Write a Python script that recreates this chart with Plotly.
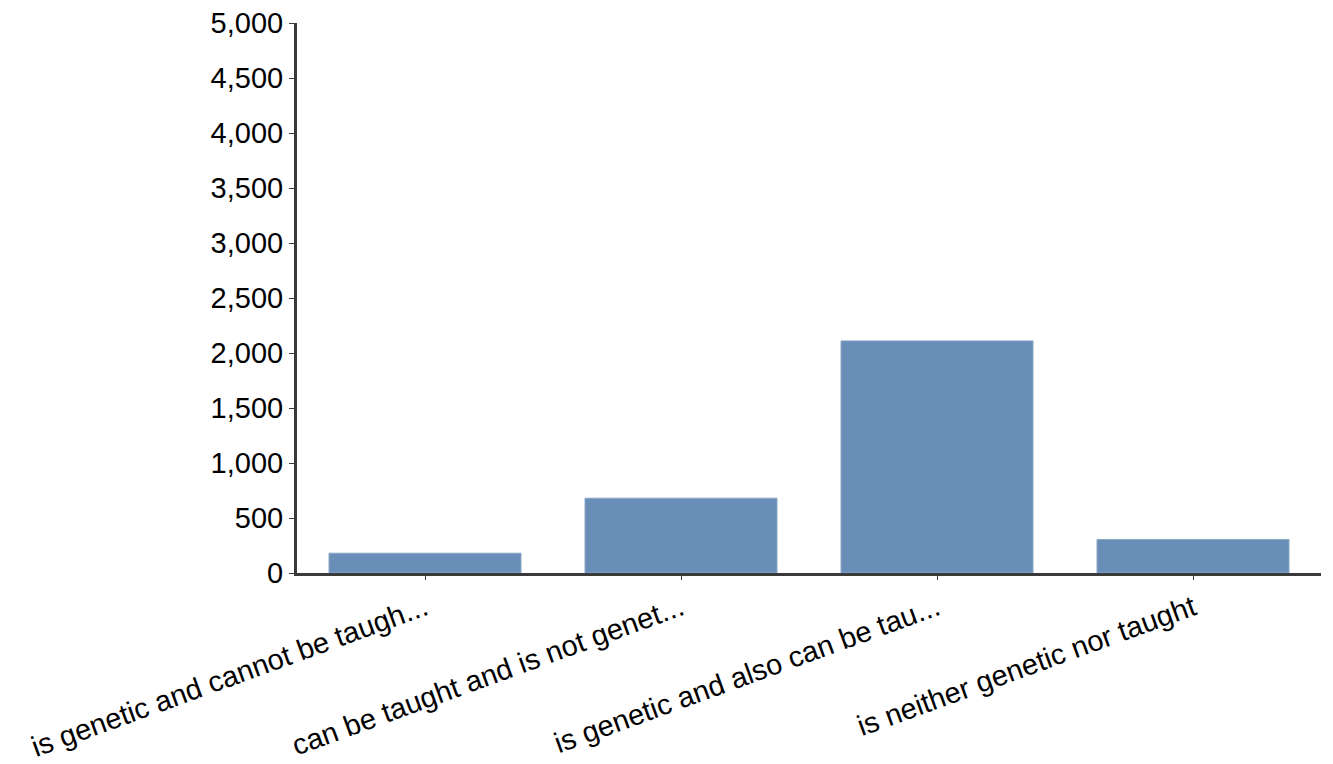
import plotly.graph_objects as go

categories = [
    "is genetic and cannot be taugh...",
    "can be taught and is not genet...",
    "is genetic and also can be tau...",
    "is neither genetic nor taught",
]
values = [180, 680, 2110, 305]
y_ticks = [0, 500, 1000, 1500, 2000, 2500, 3000, 3500, 4000, 4500, 5000]

fig = go.Figure(
    go.Bar(
        x=categories,
        y=values,
        marker=dict(color="#698fb8", line=dict(color="#8aa6c6", width=1)),
    )
)

fig.update_layout(
    width=1325,
    height=756,
    margin=dict(l=289, r=12, t=15, b=191),
    paper_bgcolor="white",
    plot_bgcolor="white",
    bargap=0.25,
    showlegend=False,
    font=dict(family="Liberation Sans, Arial, sans-serif", color="black"),
)
fig.update_xaxes(
    automargin=False,
    showline=True,
    linecolor="#3a3a3a",
    linewidth=3,
    ticks="outside",
    ticklen=4,
    tickcolor="#3a3a3a",
    tickwidth=1,
    tickangle=-20,
    tickfont=dict(size=29),
    ticklabeloverflow="allow",
    showgrid=False,
)
fig.update_yaxes(
    automargin=False,
    range=[0, 5000],
    tickvals=y_ticks,
    tickformat=",",
    showline=True,
    linecolor="#3a3a3a",
    linewidth=3,
    ticks="outside",
    ticklen=5,
    tickcolor="#3a3a3a",
    tickwidth=1,
    tickfont=dict(size=29),
    ticklabeloverflow="allow",
    showgrid=False,
    zeroline=False,
)

fig.write_html("out.html")
